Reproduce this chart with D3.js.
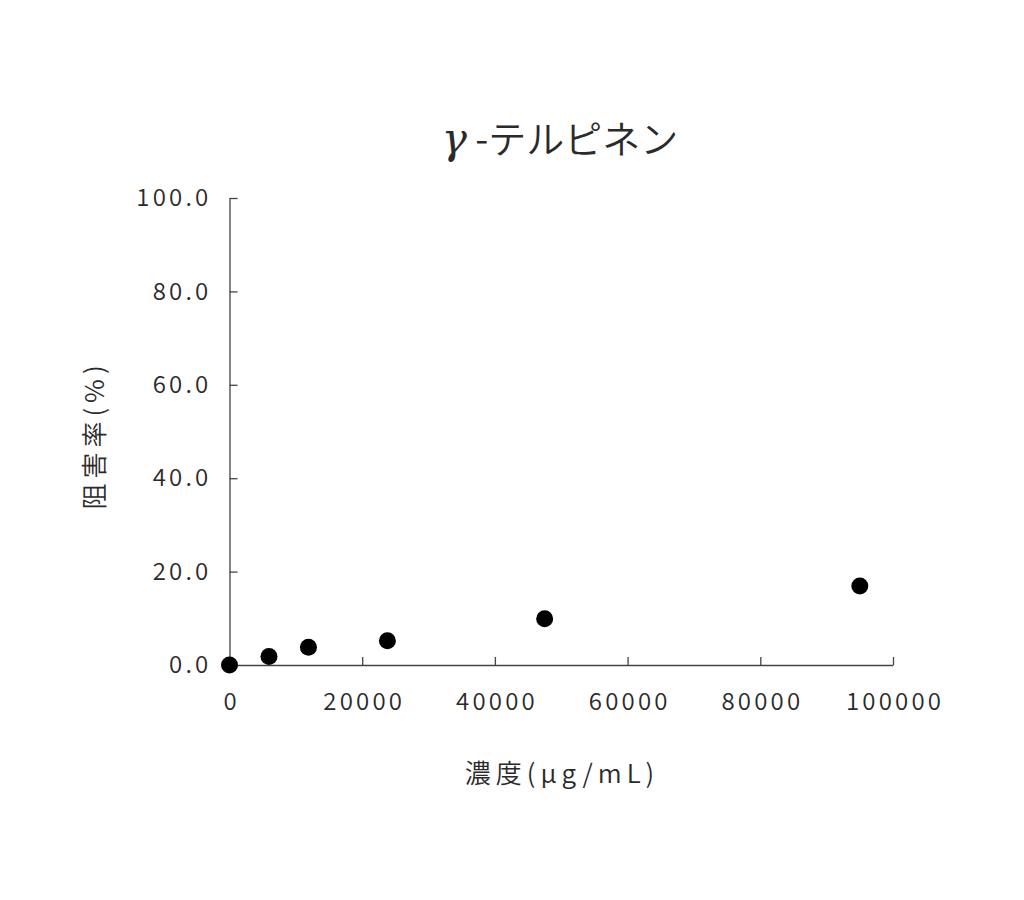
<!DOCTYPE html>
<html>
<head>
<meta charset="utf-8">
<script src="https://cdn.jsdelivr.net/npm/d3@7"></script>
<style>
  body { margin: 0; background: #fff; }
  text { font-family: "Noto Sans CJK JP", "Noto Sans", sans-serif; fill: #2a2a2a; font-weight: 350; }
</style>
</head>
<body>
<svg id="chart"></svg>
<script>
const concentrations = [0, 5950, 11900, 23800, 47500, 95000];
const inhibition = [0, 1.8, 3.8, 5.2, 9.9, 16.9];
const xTicks = [0, 20000, 40000, 60000, 80000, 100000];
const yTicks = [0, 20, 40, 60, 80, 100];

const width = 1024;
const height = 900;
const margin = { left: 229.5, right: 131, top: 198, bottom: 235 };

const svg = d3.select("#chart")
  .attr("width", width)
  .attr("height", height);

const x = d3.scaleLinear()
  .domain([0, 100000])
  .range([margin.left, width - margin.right]);

const y = d3.scaleLinear()
  .domain([0, 100])
  .range([height - margin.bottom, margin.top]);

const axisColor = "#444";

// x axis, ticks pointing inward
const xAxis = svg.append("g")
  .attr("transform", `translate(0,${y(0)})`)
  .call(d3.axisBottom(x).tickValues(xTicks).tickSize(-8).tickSizeOuter(0).tickPadding(22).tickFormat(d3.format("d")));

// y axis, ticks pointing inward
const yAxis = svg.append("g")
  .attr("transform", `translate(${x(0)},0)`)
  .call(d3.axisLeft(y).tickValues(yTicks).tickSize(-8).tickSizeOuter(0).tickPadding(18).tickFormat(d3.format(".1f")));

[xAxis, yAxis].forEach(a => {
  a.select(".domain").attr("stroke", axisColor).attr("stroke-width", 1.3);
  a.selectAll(".tick line").attr("stroke", axisColor).attr("stroke-width", 1.3);
  a.selectAll(".tick text")
    .attr("font-size", 24)
    .attr("letter-spacing", "3.2px")
    .attr("fill", "#2a2a2a");
});
xAxis.selectAll(".tick text").attr("dy", "0.95em").attr("dx", "1.6px");

svg.selectAll("circle")
  .data(concentrations.map((c, i) => ({ c, v: inhibition[i] })))
  .enter()
  .append("circle")
  .attr("cx", d => x(d.c))
  .attr("cy", d => y(d.v))
  .attr("r", 8.5)
  .attr("fill", "#000");

// title
const title = svg.append("text")
  .attr("x", 560)
  .attr("y", 153)
  .attr("text-anchor", "middle")
  .attr("font-size", 38);
title.append("tspan")
  .attr("font-style", "italic")
  .attr("font-weight", 400)
  .attr("font-size", 42)
  .attr("font-family", "'DejaVu Serif', 'Liberation Serif', serif")
  .text("γ");
title.append("tspan").text(" -テルピネン");

// axis titles
svg.append("text")
  .attr("x", 562)
  .attr("y", 783)
  .attr("text-anchor", "middle")
  .attr("font-size", 26)
  .attr("letter-spacing", "5px")
  .text("濃度(μg/mL)");

svg.append("text")
  .attr("transform", "translate(104,435) rotate(-90)")
  .attr("text-anchor", "middle")
  .attr("font-size", 26)
  .attr("letter-spacing", "5px")
  .text("阻害率(%)");
</script>
</body>
</html>
